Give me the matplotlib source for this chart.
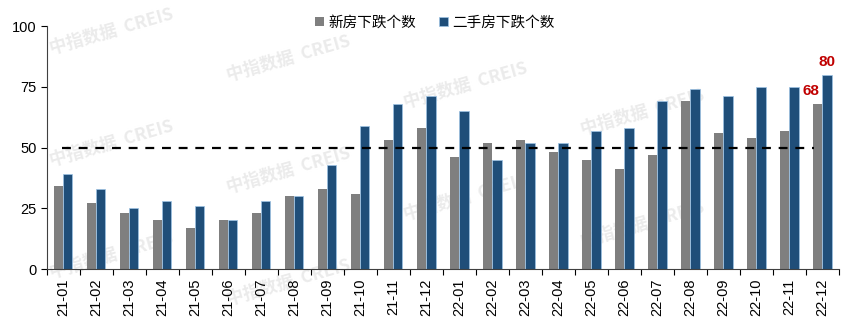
import numpy as np
import matplotlib.pyplot as plt
from matplotlib.ticker import FixedLocator

plt.rcParams['font.family'] = ['Liberation Sans', 'Noto Sans CJK SC', 'DejaVu Sans']

### data ###
months = ['21-01', '21-02', '21-03', '21-04', '21-05', '21-06', '21-07', '21-08',
          '21-09', '21-10', '21-11', '21-12', '22-01', '22-02', '22-03', '22-04',
          '22-05', '22-06', '22-07', '22-08', '22-09', '22-10', '22-11', '22-12']
new_home = [34, 27, 23, 20, 17, 20, 23, 30, 33, 31, 53, 58,
            46, 52, 53, 48, 45, 41, 47, 69, 56, 54, 57, 68]
second_home = [39, 33, 25, 28, 26, 20, 28, 30, 43, 59, 68, 71,
               65, 45, 52, 52, 57, 58, 69, 74, 71, 75, 75, 80]
threshold = 50

gray = '#7f7f7f'
blue = '#1f4e79'
red = '#c00000'

fig = plt.figure(figsize=(8.56, 3.25), dpi=100)
ax = fig.add_axes([0.0545, 0.172, 0.9255, 0.748])
ax.set_zorder(1)
ax.patch.set_alpha(0)

### watermarks (behind the bars) ###
for c in range(4):
    for r in range(-1, 4):
        yy = 32 + 27 * c + 112 * r
        if yy < 25 or yy > 295:
            continue
        fig.text((112 + 177 * c) / 856, 1 - yy / 325, '中指数据  CREIS',
                 fontsize=12.5, fontweight='bold', color='#ebebeb', rotation=16,
                 ha='center', va='center', zorder=0,
                 family=['Noto Sans CJK SC', 'DejaVu Sans'])

x = np.arange(len(months))
w = 0.28
ax.bar(x - w / 2, new_home, width=w, color=gray, label='新房下跌个数', zorder=2)
ax.bar(x + w / 2, second_home, width=w, color=blue, edgecolor='#9dc3e6',
       linewidth=0.5, label='二手房下跌个数', zorder=2)

ax.plot([-0.05, 22.75], [threshold, threshold], color='black', lw=1.6,
        dashes=(4, 3.5), zorder=3)

ax.annotate(str(second_home[-1]), (x[-1] + w / 2, second_home[-1]),
            xytext=(0, 4), textcoords='offset points', ha='center', va='bottom',
            color=red, fontsize=11, fontweight='bold')
ax.annotate(str(new_home[-1]), (x[-1] - w / 2, new_home[-1]),
            xytext=(-5, 4), textcoords='offset points', ha='center', va='bottom',
            color=red, fontsize=11, fontweight='bold')

ax.set_xlim(-0.5, 23.5)
ax.set_ylim(0, 100)
ax.set_yticks([0, 25, 50, 75, 100])
ax.tick_params(axis='y', direction='out', length=4, labelsize=10.5, pad=3)

ax.xaxis.set_major_locator(FixedLocator(np.arange(-0.5, 24, 1)))
ax.xaxis.set_major_formatter(plt.NullFormatter())
ax.xaxis.set_minor_locator(FixedLocator(x))
ax.set_xticklabels(months, minor=True, rotation=90)
ax.tick_params(axis='x', which='major', direction='out', length=4)
ax.tick_params(axis='x', which='minor', length=0, labelsize=10.5, pad=7)

for s in ['top', 'right']:
    ax.spines[s].set_visible(False)
ax.spines['left'].set_color('#404040')
ax.spines['bottom'].set_color('#404040')

leg = fig.legend(loc='center', bbox_to_anchor=(0.508, 0.93), ncol=2, frameon=False,
                 prop={'family': ['Noto Sans CJK SC'], 'size': 10.5},
                 handlelength=0.6, handleheight=0.6, handletextpad=0.3,
                 columnspacing=1.6)

fig.savefig('out.png', dpi=100)
